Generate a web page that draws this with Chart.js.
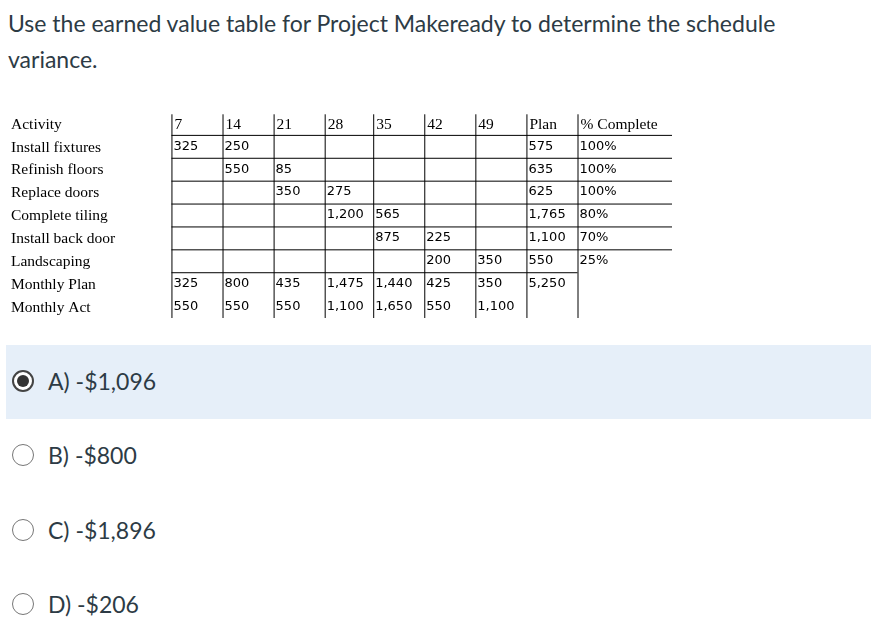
<!DOCTYPE html>
<html><head><meta charset="utf-8">
<script src="https://cdn.jsdelivr.net/npm/chart.js@4.4.0/dist/chart.umd.min.js"></script>
<style>
body{margin:0;width:871px;height:629px;background:#fff;font-family:Lato,sans-serif;color:#2d3b45;position:relative;overflow:hidden}
.q{position:absolute;left:8px;top:5px;font-size:23px;line-height:36px;width:815px}
#wrap{position:absolute;left:8px;top:112px;width:664px;height:206px}
.opt{position:absolute;left:6px;width:865px;height:74px;font-size:23px}
.opt.sel{background:#e6eff9}
.opt .r{position:absolute;left:6px;top:25px;width:22px;height:22px;border:1px solid #777;border-radius:50%;box-sizing:border-box;background:#fff}
.opt.sel .r{border:2px solid #444}
.opt.sel .r:after{content:"";position:absolute;left:3px;top:3px;width:12px;height:12px;border-radius:50%;background:#333}
.opt span{position:absolute;left:42px;top:22px}
</style></head><body>
<div class="q">Use the earned value table for Project Makeready to determine the schedule variance.</div>
<div id="wrap"><canvas id="t"></canvas></div>
<div class="opt sel" style="top:345px"><div class="r"></div><span>A) -$1,096</span></div>
<div class="opt" style="top:419px"><div class="r"></div><span>B) -$800</span></div>
<div class="opt" style="top:494px"><div class="r"></div><span>C) -$1,896</span></div>
<div class="opt" style="top:568px"><div class="r"></div><span>D) -$206</span></div>
<script>
const headers = ['Activity','7','14','21','28','35','42','49','Plan','% Complete'];
const colEdges = [0,3.2,4.2,5.2,6.2,7.15,8.15,9.15,10.15,11.15,13.0];
const activities = ['Install fixtures','Refinish floors','Replace doors','Complete tiling','Install back door','Landscaping','Monthly Plan','Monthly Act'];
const weekValues = [
  ['325','250','','','','','','575','100%'],
  ['','550','85','','','','','635','100%'],
  ['','','350','275','','','','625','100%'],
  ['','','','1,200','565','','','1,765','80%'],
  ['','','','','875','225','','1,100','70%'],
  ['','','','','','200','350','550','25%'],
  ['325','800','435','1,475','1,440','425','350','5,250',''],
  ['550','550','550','1,100','1,650','550','1,100','','']
];
const tablePlugin = {
  id:'table',
  afterDraw(chart){
    const c = chart.ctx, x = chart.scales.x, y = chart.scales.y;
    const X = v => x.getPixelForValue(v), Y = v => y.getPixelForValue(v);
    c.save();
    c.strokeStyle = '#000'; c.lineWidth = 1;
    for (let r = 1; r <= 7; r++) {
      const end = r >= 7 ? colEdges[9] : colEdges[10];
      c.beginPath(); c.moveTo(X(colEdges[1]), Y(r)+0.5); c.lineTo(X(end), Y(r)+0.5); c.stroke();
    }
    for (let i = 1; i < colEdges.length-1; i++) {
      c.beginPath(); c.moveTo(X(colEdges[i])+0.5, Y(0.1)); c.lineTo(X(colEdges[i])+0.5, Y(9)); c.stroke();
    }
    c.fillStyle = '#000'; c.textBaseline = 'middle';
    c.font = '15px "DejaVu Serif"';
    c.font = '15.5px "Liberation Serif"';
    headers.forEach((h,i) => c.fillText(h, X(colEdges[i])+3, Y(0.55)));
    activities.forEach((a,r) => c.fillText(a, X(0)+3, Y(r+1.55)));
    c.font = '13px "DejaVu Sans"';
    weekValues.forEach((row,r) => row.forEach((v,i) => {
      if (v) c.fillText(v, X(colEdges[i+1])+2, Y(r+1.5));
    }));
    c.restore();
  }
};
new Chart(document.getElementById('t'), {
  type:'scatter',
  data:{datasets:[{data:[]}]},
  options:{
    responsive:true, maintainAspectRatio:false, animation:false,
    layout:{padding:0},
    plugins:{legend:{display:false},tooltip:{enabled:false}},
    scales:{
      x:{type:'linear',min:0,max:colEdges[colEdges.length-1],display:false},
      y:{type:'linear',min:0,max:9,reverse:true,display:false}
    }
  },
  plugins:[tablePlugin]
});
</script>
</body></html>
